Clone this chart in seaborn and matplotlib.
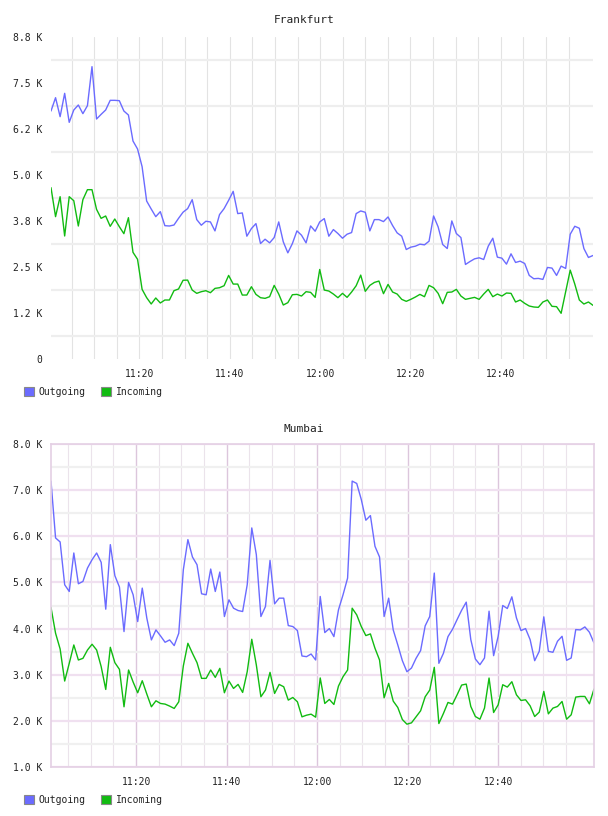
import numpy as np
import pandas as pd
import matplotlib
matplotlib.use("Agg")
import matplotlib.pyplot as plt
import seaborn as sns
from matplotlib.patches import Patch

# ---------------- data ----------------
series_names = ["Outgoing", "Incoming"]
series_colors = ["#6b6bff", "#11bb11"]

# minutes after 11:00 of first sample, and sample step (minutes)
fra_start = 0.42
mum_start = 1.2
sample_step = 1.0083

fra_out = [6739, 7101, 6585, 7219, 6431, 6766, 6902, 6667, 6884, 7944,
           6522, 6648, 6766, 7029, 7029, 7020, 6739, 6630, 5924, 5707,
           5227, 4293, 4076, 3868, 4004, 3623, 3614, 3641, 3822, 3990,
           4086, 4330, 3788, 3635, 3743, 3725, 3481, 3924, 4086, 4312,
           4556, 3951, 3969, 3337, 3544, 3680, 3138, 3255, 3156, 3300,
           3725, 3183, 2885, 3138, 3481, 3364, 3156, 3616, 3472, 3725,
           3815, 3337, 3517, 3409, 3282, 3391, 3436, 3951, 4023, 3987,
           3481, 3788, 3788, 3734, 3860, 3626, 3427, 3337, 2975, 3039,
           3066, 3120, 3102, 3201, 3887, 3589, 3111, 3002, 3752, 3409,
           3300, 2569, 2650, 2722, 2750, 2704, 3066, 3282, 2768, 2740,
           2578, 2858, 2623, 2659, 2596, 2271, 2181, 2190, 2163, 2488,
           2470, 2271, 2524, 2461, 3391, 3607, 3553, 3002, 2759, 2813]

fra_in = [4656, 3868, 4411, 3343, 4411, 4302, 3614, 4329, 4601, 4601,
          4067, 3822, 3886, 3605, 3804, 3596, 3406, 3840, 2899, 2709,
          1893, 1667, 1495, 1658, 1522, 1603, 1603, 1857, 1902, 2140,
          2144, 1874, 1784, 1829, 1856, 1802, 1919, 1937, 1991, 2271,
          2036, 2036, 1738, 1738, 1964, 1756, 1666, 1648, 1693, 2000,
          1765, 1467, 1531, 1747, 1756, 1711, 1829, 1811, 1675, 2433,
          1874, 1847, 1765, 1666, 1784, 1675, 1820, 1991, 2280, 1838,
          2000, 2081, 2118, 1775, 2027, 1820, 1765, 1621, 1567, 1621,
          1684, 1756, 1693, 2000, 1937, 1784, 1503, 1811, 1820, 1892,
          1711, 1621, 1648, 1675, 1621, 1765, 1892, 1693, 1765, 1711,
          1793, 1784, 1549, 1603, 1513, 1440, 1413, 1404, 1549, 1603,
          1431, 1422, 1242, 1829, 2415, 2036, 1603, 1494, 1549, 1458]

mum_out = [7196, 5964, 5877, 4949, 4804, 5638, 4971, 5022, 5312, 5493,
           5638, 5435, 4420, 5819, 5145, 4899, 3935, 5000, 4732, 4152,
           4877, 4225, 3754, 3971, 3841, 3703, 3754, 3631, 3899, 5275,
           5928, 5551, 5384, 4754, 4732, 5290, 4804, 5225, 4261, 4623,
           4442, 4391, 4370, 4949, 6181, 5602, 4261, 4478, 5478, 4536,
           4659, 4659, 4065, 4044, 3957, 3406, 3391, 3449, 3319, 4696,
           3913, 4000, 3826, 4406, 4732, 5094, 7196, 7145, 6797, 6348,
           6449, 5783, 5551, 4261, 4659, 3971, 3645, 3305, 3065, 3145,
           3355, 3522, 4058, 4261, 5203, 3247, 3464, 3826, 3986, 4196,
           4399, 4573, 3761, 3341, 3217, 3362, 4377, 3413, 3833, 4500,
           4435, 4688, 4232, 3957, 4000, 3761, 3304, 3507, 4254, 3507,
           3486, 3725, 3833, 3312, 3362, 3978, 3971, 4036, 3920, 3688]

mum_in = [4457, 3899, 3558, 2863, 3247, 3645, 3319, 3355, 3536, 3660,
          3536, 3174, 2681, 3594, 3261, 3116, 2305, 3102, 2841, 2609,
          2870, 2580, 2305, 2435, 2377, 2363, 2320, 2269, 2413, 3190,
          3681, 3464, 3261, 2921, 2921, 3102, 2942, 3138, 2609, 2863,
          2703, 2790, 2616, 3065, 3768, 3210, 2522, 2667, 3051, 2594,
          2790, 2739, 2450, 2507, 2413, 2087, 2123, 2145, 2080, 2930,
          2377, 2464, 2355, 2754, 2957, 3102, 4442, 4297, 4044, 3848,
          3884, 3573, 3319, 2500, 2812, 2428, 2290, 2029, 1928, 1957,
          2087, 2218, 2522, 2667, 3160, 1942, 2160, 2399, 2363, 2565,
          2776, 2797, 2312, 2094, 2036, 2276, 2928, 2181, 2348, 2783,
          2732, 2848, 2565, 2442, 2457, 2326, 2094, 2189, 2638, 2152,
          2276, 2312, 2420, 2036, 2131, 2515, 2529, 2529, 2370, 2689]

time_ticks = [20, 40, 60, 80, 100]
time_labels = ["11:20", "11:40", "12:00", "12:20", "12:40"]
minor_time_ticks = list(range(5, 120, 5))

fra_yticks = [0, 1250, 2500, 3750, 5000, 6250, 7500, 8750]
fra_ylabels = ["0", "1.2 K", "2.5 K", "3.8 K", "5.0 K", "6.2 K", "7.5 K", "8.8 K"]
fra_ygrid = [625, 1875, 3125, 4375, 5625, 6875, 8125]

mum_yticks = [1000, 2000, 3000, 4000, 5000, 6000, 7000, 8000]
mum_ylabels = ["1.0 K", "2.0 K", "3.0 K", "4.0 K", "5.0 K", "6.0 K", "7.0 K", "8.0 K"]
mum_ygrid = [1500, 2500, 3500, 4500, 5500, 6500, 7500]

titles = ["Frankfurt", "Mumbai"]


def make_df(start, out_vals, in_vals):
    n = len(out_vals)
    minutes = start + sample_step * np.arange(n)
    return pd.concat([
        pd.DataFrame({"minute": minutes, "value": out_vals, "series": series_names[0]}),
        pd.DataFrame({"minute": minutes, "value": in_vals, "series": series_names[1]}),
    ], ignore_index=True)


df_fra = make_df(fra_start, fra_out, fra_in)
df_mum = make_df(mum_start, mum_out, mum_in)

# ---------------- style ----------------
sns.set_style("white")
plt.rcParams["font.family"] = ["DejaVu Sans Mono", "DejaVu Sans"]
text_color = "#222222"

W, H = 608, 816
fig = plt.figure(figsize=(W / 100, H / 100), dpi=100)
ax1 = fig.add_axes([51 / W, 1 - 359 / H, 542 / W, 322 / H])
ax2 = fig.add_axes([51 / W, 1 - 767 / H, 543 / W, 323 / H])

palette = dict(zip(series_names, series_colors))

for ax, df in [(ax1, df_fra), (ax2, df_mum)]:
    sns.lineplot(data=df, x="minute", y="value", hue="series", palette=palette,
                 estimator=None, sort=False, legend=False, linewidth=1.0, ax=ax)
    ax.set_xlim(df["minute"].min(), df["minute"].max())
    ax.set_xlabel("")
    ax.set_ylabel("")
    ax.set_axisbelow(True)
    ax.set_xticks(time_ticks)
    ax.set_xticklabels(time_labels)
    ax.set_xticks(minor_time_ticks, minor=True)
    ax.tick_params(axis="both", which="both", length=0, labelsize=7, colors=text_color)
    ax.tick_params(axis="x", pad=7)
    ax.tick_params(axis="y", pad=6)

# Frankfurt axes
ax1.set_ylim(0, 8750)
ax1.set_yticks(fra_yticks)
ax1.set_yticklabels(fra_ylabels)
ax1.set_yticks(fra_ygrid, minor=True)
for s in ax1.spines.values():
    s.set_visible(False)
ax1.grid(False)
ax1.grid(True, which="minor", axis="y", color="#eeeeee", linewidth=1.6)
ax1.grid(True, which="both", axis="x", color="#e3e3e3", linewidth=0.8)

# Mumbai axes
ax2.set_ylim(1000, 8000)
ax2.set_yticks(mum_yticks)
ax2.set_yticklabels(mum_ylabels)
ax2.set_yticks(mum_ygrid, minor=True)
for s in ax2.spines.values():
    s.set_visible(True)
    s.set_color("#e4d0e4")
    s.set_linewidth(1.2)
ax2.grid(False)
ax2.grid(True, which="major", axis="y", color="#f0e0f0", linewidth=1.6)
ax2.grid(True, which="minor", axis="y", color="#f0f0f0", linewidth=1.6)
ax2.grid(True, which="major", axis="x", color="#dcc6dc", linewidth=1.0)
ax2.grid(True, which="minor", axis="x", color="#ebe3eb", linewidth=0.8)

# titles
fig.text(0.5, 1 - 20 / H, titles[0], ha="center", va="center", fontsize=8, color=text_color)
fig.text(0.5, 1 - 429 / H, titles[1], ha="center", va="center", fontsize=8, color=text_color)

# legends
handles = [Patch(facecolor=c, edgecolor="#888888", linewidth=0.8) for c in series_colors]
for ycen in (392, 800):
    fig.legend(handles, series_names, loc="center left",
               bbox_to_anchor=(24 / W, 1 - ycen / H), ncol=2, frameon=False,
               handlelength=1.0, handleheight=1.0, handletextpad=0.5,
               columnspacing=1.6, borderpad=0, borderaxespad=0,
               prop={"size": 7}, labelcolor=text_color)

fig.savefig("out.png", dpi=100)
